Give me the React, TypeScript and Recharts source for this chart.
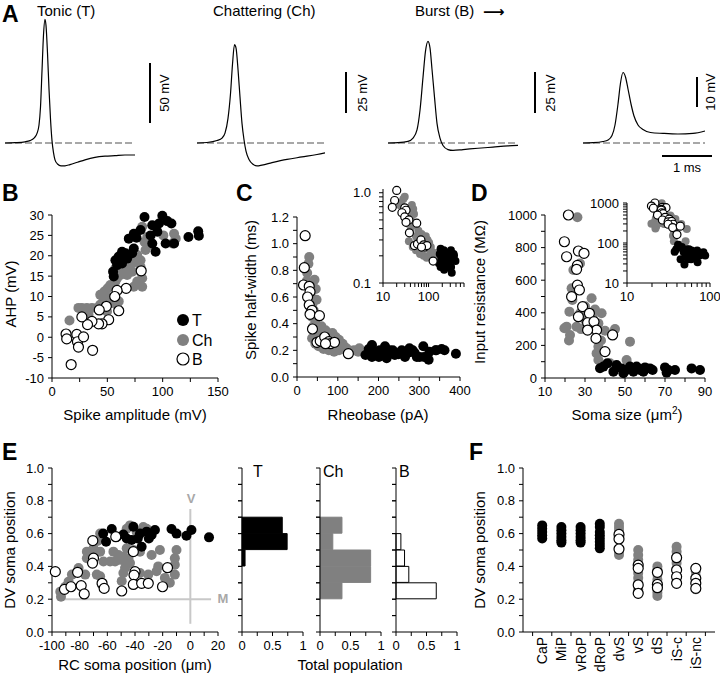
import React from 'react';
import { ScatterChart, Scatter, LineChart, Line, BarChart, Bar, XAxis, YAxis, ReferenceLine } from 'recharts';

const W = 720;
const H = 679;
const FONT = '"Liberation Sans", Arial, Helvetica, sans-serif';
const BLACK = '#000000';
const GRAY = '#808080';

// ---------- A: example spikes, [time (ms), mV from rest]
const TONIC = [
  [0, 0], [0.2, 0.3], [0.4, 1], [0.5, 2], [0.58, 4], [0.64, 8], [0.68, 15], [0.71, 30], [0.74, 60],
  [0.77, 90], [0.8, 103], [0.82, 98], [0.85, 75], [0.88, 45], [0.91, 20], [0.94, 2], [0.97, -8],
  [1.0, -14], [1.05, -17.5], [1.12, -19], [1.2, -19], [1.3, -18], [1.45, -16], [1.6, -14], [1.8, -12],
  [2.0, -11], [2.2, -10.5], [2.4, -10], [2.6, -10],
];
const CHATTER = [
  [0, 0], [0.2, 0.3], [0.4, 1.5], [0.5, 3], [0.56, 6], [0.62, 15], [0.67, 30], [0.71, 48], [0.75, 60],
  [0.78, 58], [0.82, 45], [0.86, 28], [0.9, 12], [0.94, 2], [0.98, -5], [1.04, -10], [1.12, -13],
  [1.2, -14], [1.3, -13.5], [1.5, -12], [1.8, -10], [2.1, -8.5], [2.4, -7], [2.56, -6],
];
const BURST = [
  [0, 0], [0.2, 0.2], [0.4, 1], [0.5, 3], [0.58, 8], [0.64, 20], [0.7, 40], [0.75, 56], [0.8, 62],
  [0.84, 58], [0.88, 45], [0.93, 28], [0.98, 12], [1.04, 3], [1.1, -1.5], [1.2, -4], [1.3, -4.5],
  [1.5, -4], [1.8, -3.2], [2.1, -2.5], [2.4, -1.8], [2.6, -1.5],
];
const BURST_SLOW = [
  [0, 0], [0.2, 0.1], [0.4, 0.5], [0.5, 1], [0.58, 2.5], [0.64, 6], [0.7, 13], [0.75, 20], [0.8, 23.5],
  [0.85, 22], [0.9, 18], [0.96, 13], [1.02, 9], [1.1, 6], [1.2, 4.5], [1.35, 3.5], [1.6, 3.2],
  [1.9, 3], [2.2, 3.2], [2.44, 4],
];

// ---------- B: spike amplitude (mV) vs AHP (mV)
const B_T = [
  [83.6, 29.5], [99.7, 29.8], [90.6, 27.5], [96.7, 27.9], [104.2, 28.5], [107.9, 27.9], [80, 26.3],
  [73.9, 25.4], [69.4, 24.2], [76.4, 24.4], [89.1, 25], [95.2, 25.9], [90.6, 23], [93.6, 21],
  [102.7, 23], [110.3, 23], [123.3, 24.6], [132.1, 26], [132.7, 24.9], [63.3, 21], [66.4, 20.6],
  [60.3, 19.8], [57.3, 18.9], [58.8, 17.7], [63.3, 18.1], [67.9, 19.3], [72.4, 20.6], [55.2, 16.1],
  [55.8, 14.9], [73.9, 21.8],
];
const B_CH = [
  [81.5, 27.1], [86.1, 24.6], [83.6, 23.4], [87.6, 22.6], [84.5, 21.4], [100.6, 25], [110.3, 25.4],
  [111.8, 24.2], [108.8, 23], [72.4, 18.1], [73.9, 19.3], [77, 20.2], [80, 18.9], [69.4, 16.9],
  [72.4, 16.1], [67.9, 15.3], [64.8, 16.1], [61.8, 15.3], [58.8, 14.5], [57.3, 13.7], [52.7, 12.8],
  [50.3, 12], [49.1, 10], [46.7, 9.2], [43.6, 8], [40.6, 7.2], [36.1, 7.2], [31.5, 7.2], [27, 7.2],
  [23.9, 7.2], [52.7, 9.6], [55.8, 9.6], [60.3, 8.8], [58.8, 8], [54.2, 8.4], [15.8, 4.1], [80, 16.1],
  [81.5, 14.5], [77, 13.7], [73.9, 12.4], [81.5, 12.4], [80, 17.3], [43.6, 10.4], [47.3, 11.2],
  [57.3, 16.9], [33, 5.5], [49.7, 6.3],
];
const B_B = [
  [80.6, 16.3], [67, 12], [58.8, 11.5], [56.7, 10], [60.3, 6.5], [49.1, 7.6], [42.7, 6.7], [51.2, 4.3],
  [45.2, 3.3], [42.1, 3.3], [36.1, 3.9], [32.1, 3.1], [27, 5], [12.7, 0.8], [13.3, -0.4], [22.4, 0.7],
  [23, -1.1], [23.9, -2.4], [28.5, 0.1], [36.7, -3.2], [17.3, -6.7],
];

// ---------- C: rheobase (pA) vs spike half-width (ms)
const C_T = [
  [184, 0.24], [191, 0.19], [203, 0.2], [216, 0.23], [212, 0.165], [227, 0.2], [240, 0.165], [257, 0.2],
  [265, 0.15], [276, 0.215], [289, 0.18], [301, 0.15], [310, 0.23], [325, 0.19], [342, 0.2], [362, 0.2],
  [390, 0.175], [168, 0.165], [184, 0.15], [201, 0.15], [220, 0.14], [235, 0.2], [249, 0.17],
  [272, 0.18], [294, 0.15], [312, 0.15], [323, 0.13], [340, 0.2], [355, 0.21], [176, 0.21],
  [206, 0.18], [260, 0.19], [284, 0.2],
];
const C_CH = [
  [30, 0.9], [28, 0.85], [43, 0.73], [46, 0.66], [48, 0.58], [41, 0.5], [37, 0.45], [45, 0.43],
  [40, 0.38], [53, 0.33], [57, 0.3], [60, 0.38], [70, 0.35], [87, 0.33], [95, 0.3], [103, 0.28],
  [112, 0.25], [120, 0.22], [128, 0.2], [140, 0.2], [153, 0.215], [162, 0.19], [174, 0.19],
  [183, 0.23], [53, 0.23], [65, 0.21], [78, 0.2], [91, 0.19], [103, 0.2], [116, 0.21], [100, 0.24],
  [37, 0.29], [35, 0.6], [38, 0.55], [25, 0.78], [24, 0.72], [65, 0.27], [150, 0.19], [190, 0.2],
  [45, 0.25],
];
const C_B = [
  [20, 1.06], [18, 0.82], [16, 0.69], [30, 0.68], [32, 0.64], [26, 0.6], [30, 0.54], [37, 0.5],
  [32, 0.47], [55, 0.46], [38, 0.36], [49, 0.26], [57, 0.27], [68, 0.3], [78, 0.265], [82, 0.25],
  [92, 0.26], [70, 0.25], [126, 0.175],
];

// ---------- D: soma size (um2) vs input resistance (MOhm)
const D_T = [
  [39.2, 70], [41.2, 90], [45.8, 80], [48.3, 59], [50.8, 49], [52.5, 70], [54.2, 39], [55.8, 70],
  [57.5, 49], [60, 65], [62.5, 59], [63.8, 49], [70, 65], [71.7, 49], [75, 49], [83.3, 59], [87.5, 49],
  [44.2, 39], [49.2, 29], [59.2, 39], [70.8, 33], [37.5, 60],
];
const D_CH = [
  [26.2, 986], [27.5, 703], [24.2, 663], [23.3, 550], [23.7, 479], [22.2, 407], [20.8, 315],
  [19.7, 305], [22.5, 264], [25.8, 315], [27.5, 397], [30, 356], [33.3, 489], [33.8, 376],
  [36.7, 335], [38.3, 397], [36.7, 192], [35.8, 151], [36.7, 110], [52.5, 223], [50.8, 110],
  [42.5, 90], [30, 440], [35, 420], [40, 290], [38, 230], [22, 230], [28, 300], [45, 300], [33, 310],
];
const D_B = [
  [21.7, 1000], [19.7, 836], [20.8, 744], [26.7, 779], [29.5, 765], [26.2, 691], [25.8, 667],
  [26.2, 570], [27.2, 540], [23.3, 499], [28.8, 438], [26.7, 376], [32.2, 397], [31.3, 339],
  [34.5, 346], [35.8, 294], [31.3, 294], [35.5, 243], [43.8, 264], [40, 162],
];

// ---------- E: RC soma position (um) vs DV soma position
const E_T = [
  [-56.8, 0.628], [-60.9, 0.55], [-63, 0.6], [-48.4, 0.595], [-41.2, 0.642], [-42.4, 0.561],
  [-36.4, 0.6], [-31.6, 0.612], [-28, 0.591], [-25.6, 0.622], [-35.2, 0.52], [-13.6, 0.628],
  [-10, 0.6], [-2.8, 0.587], [0.8, 0.622], [13.5, 0.577], [-53.2, 0.58], [-46, 0.57], [-30, 0.57],
  [-38, 0.57],
];
const E_CH = [
  [-65.2, 0.6], [-67.1, 0.555], [-70, 0.51], [-74.8, 0.49], [-70.5, 0.46], [-65.2, 0.49], [-74.8, 0.45],
  [-80.8, 0.39], [-76, 0.35], [-85.6, 0.35], [-88, 0.307], [-90.4, 0.276], [-94, 0.246], [-93.5, 0.215],
  [-55.6, 0.49], [-52, 0.47], [-48.4, 0.46], [-44.8, 0.45], [-41.2, 0.5], [-36.4, 0.49], [-28, 0.47],
  [-22, 0.5], [-62.8, 0.43], [-58, 0.43], [-54.4, 0.43], [-50.8, 0.44], [-47.2, 0.43], [-43.6, 0.42],
  [-47.2, 0.39], [-48.4, 0.36], [-49.6, 0.31], [-65.2, 0.34], [-67.6, 0.35], [-64, 0.29], [-36.4, 0.36],
  [-30.4, 0.35], [-24.4, 0.37], [-23.2, 0.4], [-18.4, 0.33], [-14.8, 0.3], [-11.2, 0.35], [-11.2, 0.41],
  [-11.2, 0.45], [-10, 0.5], [-46, 0.63], [-43.6, 0.65], [-38.8, 0.61], [-34, 0.64], [-31.6, 0.63],
  [-46, 0.51],
];
const E_B = [
  [-97.6, 0.368], [-91, 0.26], [-86.3, 0.276], [-81.5, 0.364], [-78.9, 0.283], [-76.7, 0.232],
  [-70.5, 0.557], [-70, 0.45], [-70.7, 0.42], [-63.8, 0.297], [-62.3, 0.266], [-53.9, 0.581],
  [-49.6, 0.25], [-41.2, 0.49], [-40, 0.368], [-40.7, 0.347], [-41.2, 0.29], [-35.2, 0.297],
  [-30.4, 0.297], [-20.1, 0.276], [-16.5, 0.392],
];

// ---------- E histograms: fraction of each type per DV bin
const HIST_BINS = ['0.0', '0.1', '0.2', '0.3', '0.4', '0.5', '0.6', '0.7', '0.8', '0.9'];
const HIST_T = [0, 0, 0, 0, 0.05, 0.74, 0.66, 0, 0, 0];
const HIST_CH = [0, 0, 0.36, 0.83, 0.83, 0.21, 0.36, 0, 0, 0];
const HIST_B = [0, 0, 0.66, 0.21, 0.14, 0.08, 0, 0, 0, 0];

// ---------- F: DV soma position per identified class
const F_CATS = ['CaP', 'MiP', 'vRoP', 'dRoP', 'dvS', 'vS', 'dS', 'iS-c', 'iS-nc'];
const F_T = [
  [1, 0.65], [1, 0.63], [1, 0.61], [1, 0.59], [1, 0.57],
  [2, 0.64], [2, 0.62], [2, 0.6], [2, 0.58], [2, 0.56], [2, 0.545],
  [3, 0.64], [3, 0.62], [3, 0.6], [3, 0.58], [3, 0.56], [3, 0.545],
  [4, 0.66], [4, 0.64], [4, 0.61], [4, 0.59], [4, 0.57], [4, 0.55], [4, 0.53], [4, 0.51],
];
const F_CH = [
  [5, 0.66], [5, 0.64], [5, 0.62], [5, 0.49], [5, 0.47],
  [6, 0.5], [6, 0.47], [6, 0.44], [6, 0.42], [6, 0.36], [6, 0.33], [6, 0.3], [6, 0.26], [6, 0.24],
  [7, 0.4], [7, 0.38], [7, 0.35], [7, 0.32], [7, 0.3], [7, 0.26], [7, 0.24], [7, 0.22],
  [8, 0.52], [8, 0.49], [8, 0.46], [8, 0.42], [8, 0.34],
  [9, 0.39], [9, 0.37], [9, 0.34], [9, 0.3], [9, 0.28], [9, 0.26],
];
const F_B = [
  [5, 0.595], [5, 0.567], [5, 0.506],
  [6, 0.408], [6, 0.388], [6, 0.287], [6, 0.236],
  [7, 0.364], [7, 0.29], [7, 0.27],
  [8, 0.453], [8, 0.378], [8, 0.337], [8, 0.297],
  [9, 0.388], [9, 0.327], [9, 0.297], [9, 0.266],
];

// tick values
const B_XT = [0, 25, 50, 75, 100, 125, 150];
const B_YT = [-10, -5, 0, 5, 10, 15, 20, 25, 30];
const C_XT = [0, 50, 100, 150, 200, 250, 300, 350, 400];
const C_YT = [0, 0.1, 0.2, 0.3, 0.4, 0.5, 0.6, 0.7, 0.8, 0.9, 1.0, 1.1, 1.2];
const D_XT = [10, 20, 30, 40, 50, 60, 70, 80, 90];
const D_YT = [0, 100, 200, 300, 400, 500, 600, 700, 800, 900, 1000];
const LOG_X_C = [10, 20, 30, 40, 50, 60, 70, 80, 90, 100, 200, 300, 400, 500, 600];
const LOG_Y_C = [0.1, 0.2, 0.3, 0.4, 0.5, 0.6, 0.7, 0.8, 0.9, 1.0];
const LOG_X_D = [10, 20, 30, 40, 50, 60, 70, 80, 90, 100];
const LOG_Y_D = [10, 20, 30, 40, 50, 60, 70, 80, 90, 100, 200, 300, 400, 500, 600, 700, 800, 900, 1000];
const E_XT = [-100, -90, -80, -70, -60, -50, -40, -30, -20, -10, 0, 10, 20];
const DV_T = [0, 0.1, 0.2, 0.3, 0.4, 0.5, 0.6, 0.7, 0.8, 0.9, 1.0];
const HIST_XT = [0, 0.25, 0.5, 0.75, 1];
const F_XT = [0.5, 1, 1.5, 2, 2.5, 3, 3.5, 4, 4.5, 5, 5.5, 6, 6.5, 7, 7.5, 8, 8.5, 9, 9.5];

const toPts = (a: number[][]) => a.map(([x, y]) => ({ x, y }));
const has = (list: number[], v: number) => list.some((m) => Math.abs(m - v) < 1e-9);
const fix1 = (v: number) => v.toFixed(1);
const str = (v: number) => String(v);

const marginOf = (r: number[], yw: number, xh: number) => ({
  left: r[0] - yw,
  top: r[1],
  right: W - r[2],
  bottom: H - r[3] - xh,
});

const yTick = (majors: number[], fmt: (v: number) => string, gap = 0) => (p: any) => {
  const v = p.payload.value;
  if (!has(majors, v)) return <g />;
  return (
    <text x={p.x - gap} y={p.y} dy={4.5} textAnchor="end" fontSize={13} fontFamily={FONT} fill="#000">
      {fmt(v)}
    </text>
  );
};

const xTick = (majors: number[], fmt: (v: number) => string) => (p: any) => {
  const v = p.payload.value;
  if (!has(majors, v)) return <g />;
  return (
    <text x={p.x} y={p.y} dy={10} textAnchor="middle" fontSize={13} fontFamily={FONT} fill="#000">
      {fmt(v)}
    </text>
  );
};

const dot = (fill: string, stroke: string, r: number) => (p: any) => (
  <circle cx={p.cx} cy={p.cy} r={r} fill={fill} stroke={stroke} strokeWidth={stroke === 'none' ? 0 : 1.2} />
);

const TYPES = [
  { key: 'Ch', fill: GRAY, stroke: 'none' },
  { key: 'T', fill: BLACK, stroke: 'none' },
  { key: 'B', fill: '#ffffff', stroke: BLACK },
];

function ScatterPanel({ rect, xa, ya, sets, r = 5, xTickFn, children }: any) {
  return (
    <div style={{ position: 'absolute', left: 0, top: 0 }}>
      <ScatterChart width={W} height={H} margin={marginOf(rect, 40, 30)}>
        <XAxis
          type="number" dataKey="x" domain={xa.domain} ticks={xa.ticks} scale={xa.scale || 'auto'}
          interval={0} height={30} tickSize={4} tickMargin={4} stroke="#000"
          tickLine={xTickFn ? false : true}
          tick={xTickFn || xTick(xa.majors, xa.fmt)}
        />
        <YAxis
          type="number" dataKey="y" domain={ya.domain} ticks={ya.ticks} scale={ya.scale || 'auto'}
          interval={0} width={40} tickSize={4} tickMargin={4} stroke="#000"
          tick={yTick(ya.majors, ya.fmt, ya.gap || 0)}
        />
        {children}
        {TYPES.map((t, i) => (
          <Scatter key={t.key} name={t.key} data={toPts(sets[i])} shape={dot(t.fill, t.stroke, r)} isAnimationActive={false} />
        ))}
      </ScatterChart>
    </div>
  );
}

const HIST_ROWS = HIST_BINS.map((bin, i) => ({ bin, T: HIST_T[i], Ch: HIST_CH[i], B: HIST_B[i] }));

// tick marks sit on the bin edges, half a band either side of each category centre
const binEdgeTick = (axisX: number, half: number) => (p: any) => (
  <g stroke="#000" strokeWidth={1}>
    <line x1={axisX - 4} x2={axisX} y1={p.y - half} y2={p.y - half} />
    <line x1={axisX - 4} x2={axisX} y1={p.y + half} y2={p.y + half} />
  </g>
);

function HistPanel({ rect, dataKey, fill, stroke }: any) {
  const half = (rect[3] - rect[1]) / HIST_BINS.length / 2;
  return (
    <div style={{ position: 'absolute', left: 0, top: 0 }}>
      <BarChart layout="vertical" width={W} height={H} data={HIST_ROWS} margin={marginOf(rect, 10, 30)} barCategoryGap={0} barGap={0}>
        <XAxis type="number" domain={[0, 1]} ticks={HIST_XT} interval={0} height={30} tickSize={4} tickMargin={4} stroke="#000" tick={xTick([0, 0.5, 1], str)} />
        <YAxis type="category" dataKey="bin" reversed interval={0} width={10} tickLine={false} stroke="#000" tick={binEdgeTick(rect[0], half)} />
        <Bar dataKey={dataKey} fill={fill} stroke={stroke} strokeWidth={1} isAnimationActive={false} />
      </BarChart>
    </div>
  );
}

// spike traces: each drawn at 50 px per ms, baseline at y = 143
const BASE_PX = 143;
const TRACE_H = 179;
const SPIKES = [
  { data: TONIC, x0: 5, tMax: 3.4, pxPerMv: 1.2, end: 2.6, bar: { t: 2.9, lo: 16.7, hi: 66.7 } },
  { data: CHATTER, x0: 197, tMax: 3.4, pxPerMv: 1.64, end: 2.56, bar: { t: 2.98, lo: 18.3, hi: 43.3 } },
  { data: BURST, x0: 388, tMax: 3.4, pxPerMv: 1.64, end: 2.6, bar: { t: 2.94, lo: 18.3, hi: 43.3 } },
  { data: BURST_SLOW, x0: 583, tMax: 2.7, pxPerMv: 3.0, end: 2.44, bar: { t: 2.28, lo: 12, hi: 22 }, msBar: { from: 1.58, to: 2.58, at: -4.33 } },
];

function SpikeTrace({ cfg }: any) {
  const x1 = cfg.x0 + cfg.tMax * 50;
  const yDom = [-(TRACE_H - BASE_PX) / cfg.pxPerMv, BASE_PX / cfg.pxPerMv];
  const rows = cfg.data.map(([t, v]: number[]) => ({ t, v }));
  return (
    <div style={{ position: 'absolute', left: 0, top: 0 }}>
      <LineChart width={W} height={H} data={rows} margin={{ left: cfg.x0, top: 0, right: W - x1, bottom: H - TRACE_H }}>
        <XAxis type="number" dataKey="t" domain={[0, cfg.tMax]} hide />
        <YAxis type="number" domain={yDom} hide />
        <ReferenceLine segment={[{ x: 0, y: 0 }, { x: cfg.end, y: 0 }]} stroke="#8c8c8c" strokeDasharray="7 3" strokeWidth={1.6} />
        <ReferenceLine segment={[{ x: cfg.bar.t, y: cfg.bar.lo }, { x: cfg.bar.t, y: cfg.bar.hi }]} stroke="#000" strokeWidth={2} />
        {cfg.msBar && (
          <ReferenceLine segment={[{ x: cfg.msBar.from, y: cfg.msBar.at }, { x: cfg.msBar.to, y: cfg.msBar.at }]} stroke="#000" strokeWidth={2} />
        )}
        <Line dataKey="v" type="monotone" dot={false} stroke="#000" strokeWidth={1.2} isAnimationActive={false} />
      </LineChart>
    </div>
  );
}

const vText = (x: number, y: number, s: React.ReactNode, size = 15) => (
  <text transform={`translate(${x},${y}) rotate(-90)`} textAnchor="middle" dominantBaseline="central" fontSize={size}>
    {s}
  </text>
);

function Labels() {
  return (
    <svg width={W} height={H} style={{ position: 'absolute', left: 0, top: 0, pointerEvents: 'none' }}>
      <g fontFamily={FONT} fill="#000">
        <g fontSize={23} fontWeight="bold">
          <text x={2} y={22}>A</text>
          <text x={2} y={201}>B</text>
          <text x={236} y={201}>C</text>
          <text x={471} y={201}>D</text>
          <text x={2} y={460}>E</text>
          <text x={469} y={460}>F</text>
        </g>
        <g fontSize={15}>
          <text x={37} y={16}>Tonic (T)</text>
          <text x={213} y={16}>Chattering (Ch)</text>
          <text x={415} y={16}>Burst (B)</text>
        </g>
        <text x={483} y={17} fontSize={15} fontWeight="bold" fontFamily="DejaVu Sans">⟶</text>
        {vText(164, 93, '50 mV', 13)}
        {vText(362, 93, '25 mV', 13)}
        {vText(550, 93, '25 mV', 13)}
        {vText(710, 92, '10 mV', 13)}
        <text x={687} y={172} fontSize={13} textAnchor="middle">1 ms</text>

        <g fontSize={15} textAnchor="middle">
          <text x={135} y={420}>Spike amplitude (mV)</text>
          <text x={378} y={420}>Rheobase (pA)</text>
          <text x={627} y={420}>
            Soma size (μm<tspan fontSize={10} dy={-6}>2</tspan><tspan dy={6}>)</tspan>
          </text>
          <text x={135} y={670}>RC soma position (μm)</text>
          <text x={350} y={670}>Total population</text>
        </g>
        {vText(10, 294, 'AHP (mV)')}
        {vText(250, 290, 'Spike half-width (ms)')}
        {vText(479, 292, 'Input resistance (MΩ)')}
        {vText(9, 550, 'DV soma position')}
        {vText(479, 550, 'DV soma position')}

        <g fontSize={16}>
          <circle cx={183} cy={320} r={6} fill={BLACK} />
          <text x={192} y={326}>T</text>
          <circle cx={183} cy={340} r={6} fill={GRAY} />
          <text x={192} y={346}>Ch</text>
          <circle cx={183} cy={359} r={6} fill="#fff" stroke={BLACK} strokeWidth={1.2} />
          <text x={192} y={365}>B</text>
        </g>

        <g fontSize={16}>
          <text x={253} y={477}>T</text>
          <text x={323} y={477}>Ch</text>
          <text x={399} y={477}>B</text>
        </g>
        <g fontSize={13} fontWeight="bold" fill="#a8a8a8" textAnchor="middle">
          <text x={191} y={503}>V</text>
          <text x={223} y={603}>M</text>
        </g>
      </g>
    </svg>
  );
}

const fTick = (p: any) => {
  const v = p.payload.value;
  const axisY = 632;
  if (Number.isInteger(v)) {
    return (
      <text transform={`translate(${p.x},${axisY + 5}) rotate(-90)`} textAnchor="end" dominantBaseline="central" fontSize={14} fontFamily={FONT} fill="#000">
        {F_CATS[v - 1]}
      </text>
    );
  }
  return <line x1={p.x} x2={p.x} y1={axisY} y2={axisY + 4} stroke="#000" />;
};

export default function App() {
  const dvAxis = { domain: [0, 1], ticks: DV_T, majors: [0, 0.2, 0.4, 0.6, 0.8, 1.0], fmt: fix1 };
  return (
    <div style={{ position: 'absolute', left: 0, top: 0, width: W, height: H, background: '#fff', fontFamily: FONT }}>
      {SPIKES.map((s, i) => <SpikeTrace key={i} cfg={s} />)}

      <ScatterPanel
        rect={[52, 215, 218, 378]}
        xa={{ domain: [0, 150], ticks: B_XT, majors: [0, 50, 100, 150], fmt: str }}
        ya={{ domain: [-10, 30], ticks: B_YT, majors: B_YT, fmt: str }}
        sets={[B_CH, B_T, B_B]}
      />
      <ScatterPanel
        rect={[297, 217, 460, 377]}
        xa={{ domain: [0, 400], ticks: C_XT, majors: [0, 100, 200, 300, 400], fmt: str }}
        ya={{ domain: [0, 1.2], ticks: C_YT, majors: [0, 0.2, 0.4, 0.6, 0.8, 1.0, 1.2], fmt: fix1 }}
        sets={[C_CH, C_T, C_B]}
      />
      <ScatterPanel
        rect={[383, 189, 464, 283]}
        r={4}
        xa={{ domain: [10, 600], ticks: LOG_X_C, majors: [10, 100], fmt: str, scale: 'log' }}
        ya={{ domain: [0.1, 1.1], ticks: LOG_Y_C, majors: [0.1, 1.0], fmt: fix1, scale: 'log', gap: 4 }}
        sets={[C_CH, C_T, C_B]}
      />
      <ScatterPanel
        rect={[545, 215, 705, 378]}
        xa={{ domain: [10, 90], ticks: D_XT, majors: [10, 30, 50, 70, 90], fmt: str }}
        ya={{ domain: [0, 1000], ticks: D_YT, majors: [0, 200, 400, 600, 800, 1000], fmt: str }}
        sets={[D_CH, D_T, D_B]}
      />
      <ScatterPanel
        rect={[627, 203, 710, 283]}
        r={4}
        xa={{ domain: [10, 100], ticks: LOG_X_D, majors: [10, 100], fmt: str, scale: 'log' }}
        ya={{ domain: [10, 1000], ticks: LOG_Y_D, majors: [10, 100, 1000], fmt: str, scale: 'log' }}
        sets={[D_CH, D_T, D_B]}
      />
      <ScatterPanel
        rect={[52, 468, 218, 632]}
        xa={{ domain: [-100, 20], ticks: E_XT, majors: [-100, -80, -60, -40, -20, 0, 20], fmt: str }}
        ya={dvAxis}
        sets={[E_CH, E_T, E_B]}
      >
        <ReferenceLine segment={[{ x: 0, y: 0.05 }, { x: 0, y: 0.75 }]} stroke="#c8c8c8" strokeWidth={2} />
        <ReferenceLine segment={[{ x: -96.5, y: 0.2 }, { x: 15, y: 0.2 }]} stroke="#c8c8c8" strokeWidth={2} />
      </ScatterPanel>

      <HistPanel rect={[242, 468, 303, 632]} dataKey="T" fill={BLACK} stroke={BLACK} />
      <HistPanel rect={[320, 468, 381, 632]} dataKey="Ch" fill={GRAY} stroke={GRAY} />
      <HistPanel rect={[396, 468, 457, 632]} dataKey="B" fill="#ffffff" stroke={BLACK} />

      <ScatterPanel
        rect={[523, 468, 715, 632]}
        xa={{ domain: [0, 10], ticks: F_XT, majors: [], fmt: str }}
        ya={dvAxis}
        xTickFn={fTick}
        sets={[F_CH, F_T, F_B]}
      />

      <Labels />
    </div>
  );
}
